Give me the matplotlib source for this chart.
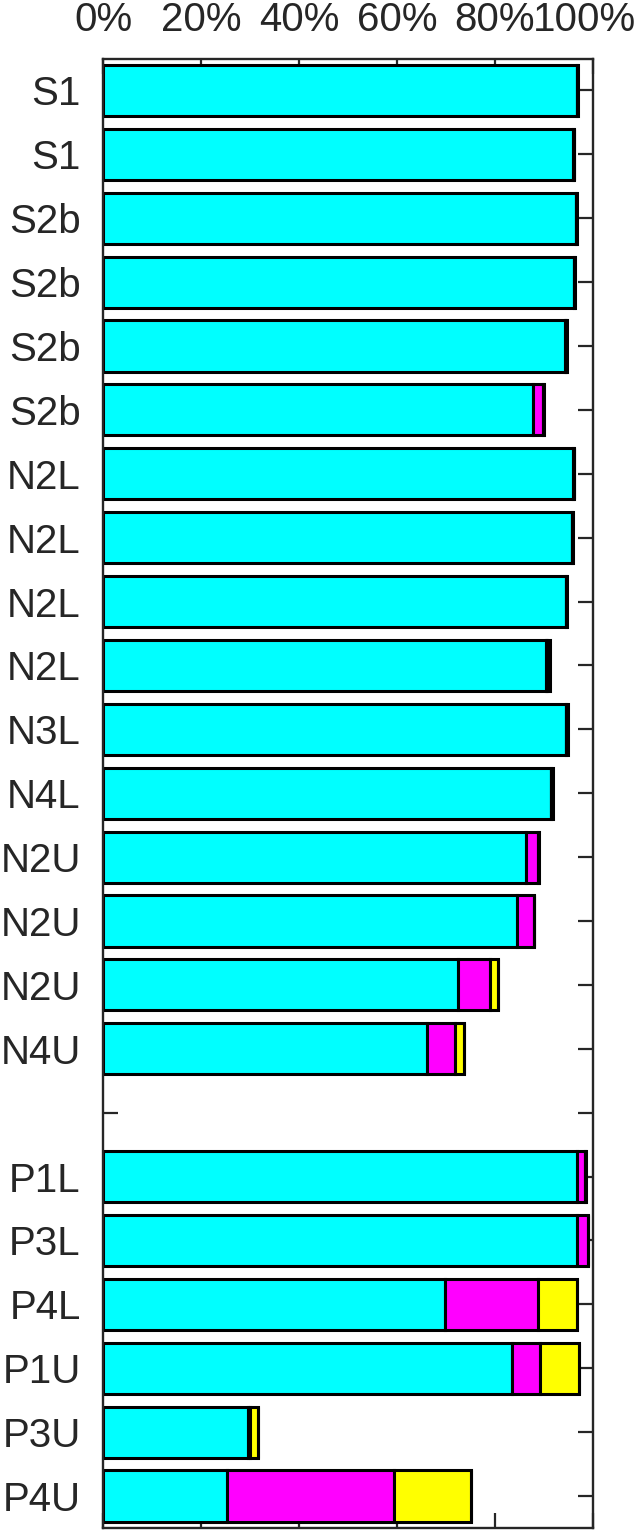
import numpy as np
import matplotlib
matplotlib.use("Agg")
import matplotlib.pyplot as plt
from matplotlib.transforms import ScaledTranslation

# Row labels, top to bottom ('' = empty spacer row)
labels = ['S1', 'S1', 'S2b', 'S2b', 'S2b', 'S2b',
          'N2L', 'N2L', 'N2L', 'N2L', 'N3L', 'N4L',
          'N2U', 'N2U', 'N2U', 'N4U', '',
          'P1L', 'P3L', 'P4L', 'P1U', 'P3U', 'P4U']

# Percent shares per row (C, M, Y, K stack)
cyan    = [96.7, 96.0, 96.5, 96.1, 94.3, 87.8,
           96.0, 95.7, 94.4, 90.4, 94.4, 91.4,
           86.3, 84.4, 72.4, 66.2, 0,
           96.8, 96.8, 69.8, 83.5, 29.6, 25.4]
magenta = [0.1, 0.1, 0.1, 0.1, 0.1, 2.0,
           0.1, 0.1, 0.1, 0.2, 0.1, 0.1,
           2.5, 3.5, 6.6, 5.6, 0,
           1.6, 2.1, 19.0, 5.6, 0.5, 33.9]
yellow  = [0.0, 0.0, 0.0, 0.0, 0.0, 0.0,
           0.0, 0.0, 0.0, 0.0, 0.0, 0.0,
           0.0, 0.0, 1.6, 1.8, 0,
           0.0, 0.0, 8.0, 8.1, 1.5, 15.9]
black   = [0.2, 0.1, 0.1, 0.2, 0.2, 0.2,
           0.1, 0.1, 0.1, 0.6, 0.3, 0.4,
           0.1, 0.0, 0.0, 0.0, 0,
           0.1, 0.0, 0.0, 0.0, 0.0, 0.0]

x_ticks = [0, 20, 40, 60, 80, 100]

axcol = '#262626'
plt.rcParams['font.family'] = ['Liberation Sans', 'DejaVu Sans']

fig = plt.figure(figsize=(6.38, 15.33), dpi=100)
ax = fig.add_axes([103/638, 5/1533, 490/638, 1469.5/1533])

ypos = np.arange(1, len(labels) + 1)
skip = np.array([lab == '' for lab in labels])

left = np.zeros(len(labels))
for vals, col in [(cyan, '#00FFFF'), (magenta, '#FF00FF'),
                  (yellow, '#FFFF00'), (black, '#000000')]:
    vals = np.array(vals)
    ax.barh(ypos[~skip], vals[~skip], left=left[~skip], height=0.8,
            color=col, edgecolor='black', linewidth=2.2, zorder=2)
    left = left + vals

ax.set_xlim(0, 100)
ax.set_ylim(len(labels) + 0.5, 0.5)
ax.set_xticks(x_ticks)
ax.set_xticklabels([f'{t}%' for t in x_ticks])
ax.set_yticks(ypos)
ax.set_yticklabels(labels)

ax.tick_params(axis='both', direction='in', length=11, width=1.6,
               color=axcol, labelcolor=axcol, labelsize=29,
               top=True, bottom=True, left=True, right=True,
               labeltop=True, labelbottom=False)
ax.tick_params(axis='x', pad=14)
ax.tick_params(axis='y', pad=16)
ax.set_axisbelow(True)

# keep the "100%" label inside the figure
last = ax.xaxis.get_major_ticks()[-1].label2
last.set_transform(last.get_transform() + ScaledTranslation(-9/100, 0, fig.dpi_scale_trans))

for s in ax.spines.values():
    s.set_color(axcol)
    s.set_linewidth(1.7)
    s.set_zorder(3)

fig.savefig('out.png', dpi=100)
